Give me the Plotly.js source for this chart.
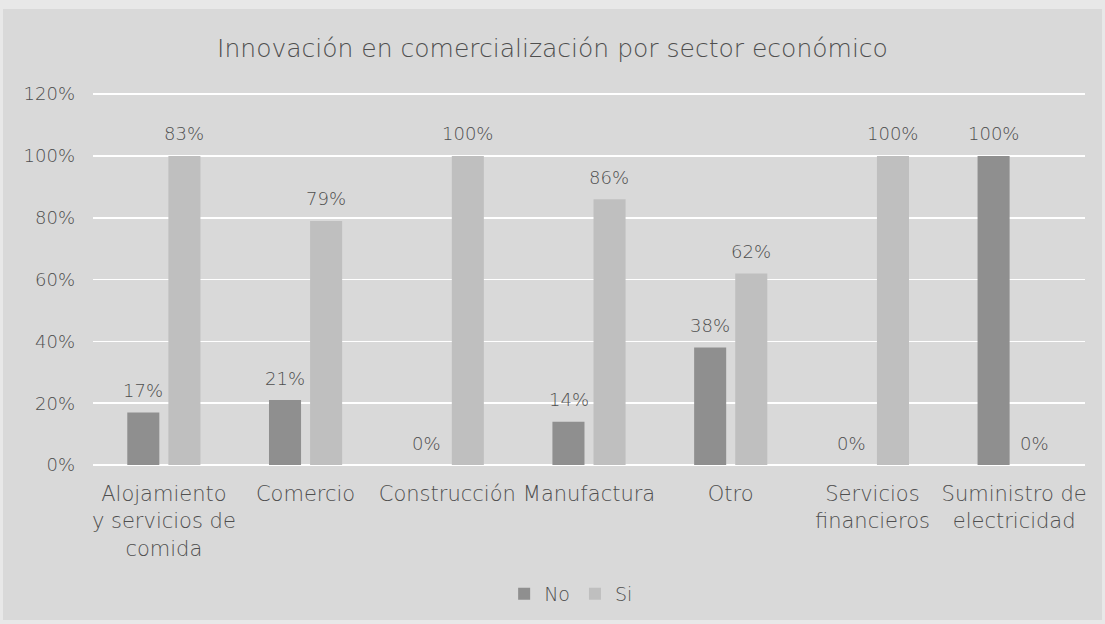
<!DOCTYPE html>
<html>
<head>
<meta charset="utf-8">
<script src="https://cdn.plot.ly/plotly-3.0.1.min.js"></script>
<style>
html,body{margin:0;padding:0;background:#e8e8e8;width:1105px;height:624px;overflow:hidden;}
#chart{position:absolute;left:3px;top:9px;width:1099px;height:611px;}
</style>
</head>
<body>
<div id="chart"></div>
<script>
const categories = ["Alojamiento<br>y servicios de<br>comida", "Comercio", "Construcción", "Manufactura", "Otro", "Servicios<br>financieros", "Suministro de<br>electricidad"];
const noValues = [17, 21, 0, 14, 38, 0, 100];
const siValues = [100, 79, 100, 86, 62, 100, 0];
const noLabels = ["17%", "21%", "0%", "14%", "38%", "0%", "100%"];
const siLabels = ["83%", "79%", "100%", "86%", "62%", "100%", "0%"];
const yTicks = [0, 20, 40, 60, 80, 100, 120];
const yTickLabels = ["0%", "20%", "40%", "60%", "80%", "100%", "120%"];

const font = "'DejaVu Sans', sans-serif";
const txt = "#4f4f4f";

const traces = [
  {type: "bar", name: "No", x: categories, y: noValues, marker: {color: "#8f8f8f"}, hoverinfo: "none"},
  {type: "bar", name: "Si", x: categories, y: siValues, marker: {color: "#bfbfbf"}, hoverinfo: "none"}
];

const annotations = [];
[[noValues, noLabels, -20.45], [siValues, siLabels, 20.45]].forEach(([vals, labs, dx]) => {
  categories.forEach((c, i) => {
    annotations.push({x: c, y: vals[i], xref: "x", yref: "y", text: labs[i], showarrow: false,
      xshift: dx, yshift: 22, yanchor: "middle", xanchor: "center",
      font: {family: font, size: 18, color: txt, weight: 300}});
  });
});

const layout = {
  width: 1099, height: 611,
  paper_bgcolor: "#d9d9d9", plot_bgcolor: "#d9d9d9",
  margin: {l: 90, r: 17, t: 78.8, b: 155, autoexpand: false},
  font: {family: font, color: txt, size: 18, weight: 300},
  title: {text: "Innovación en comercialización por sector económico", x: 0.5, xanchor: "center",
          y: 1 - 39/611, yref: "container", yanchor: "middle",
          font: {family: font, size: 25, color: txt, weight: 300}},
  barmode: "group", bargap: 0.42, bargroupgap: 0.22,
  xaxis: {type: "category", showgrid: false, showline: false, ticks: "", ticklabelstandoff: 14,
          automargin: false, tickfont: {family: font, size: 21, color: txt, weight: 300}},
  yaxis: {range: [0, 122], tickmode: "array", tickvals: yTicks, ticktext: yTickLabels,
          gridcolor: "#ffffff", gridwidth: 1.5,
          zeroline: true, zerolinecolor: "#ffffff", zerolinewidth: 1.5, showline: false,
          automargin: false, ticklabelstandoff: 17,
          tickfont: {family: font, size: 18, color: txt, weight: 300}},
  annotations: annotations,
  showlegend: true,
  legend: {orientation: "h", x: 0.482, xanchor: "center", y: -0.342, yanchor: "middle",
           font: {family: font, size: 19, color: txt, weight: 300}, bgcolor: "rgba(0,0,0,0)",
           itemwidth: 30, tracegroupgap: 0}
};

Plotly.newPlot("chart", traces, layout, {displayModeBar: false, staticPlot: true});
</script>
</body>
</html>
